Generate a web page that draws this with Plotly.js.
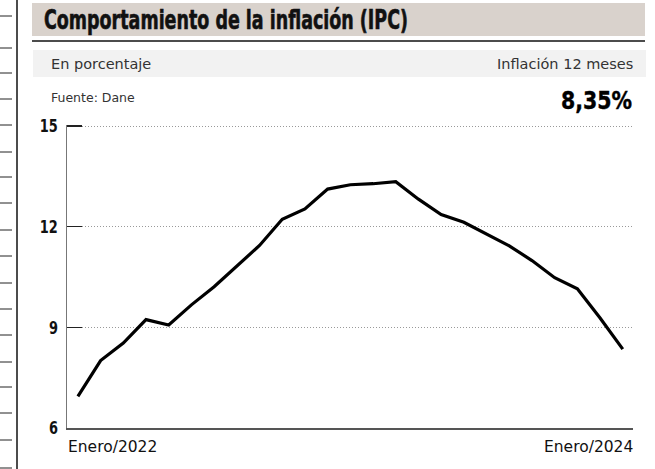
<!DOCTYPE html>
<html>
<head>
<meta charset="utf-8">
<script src="https://cdn.plot.ly/plotly-3.0.1.min.js"></script>
<style>
html,body{margin:0;padding:0;background:#fff;}
#chart{width:655px;height:469px;}
</style>
</head>
<body>
<div id="chart"></div>
<script>
// Monthly categories Jan 2022 .. Jan 2024
const months = ["2022-01","2022-02","2022-03","2022-04","2022-05","2022-06","2022-07","2022-08","2022-09","2022-10","2022-11","2022-12",
                "2023-01","2023-02","2023-03","2023-04","2023-05","2023-06","2023-07","2023-08","2023-09","2023-10","2023-11","2023-12",
                "2024-01"];
const inflation = [6.94, 8.01, 8.53, 9.23, 9.07, 9.67, 10.21, 10.84, 11.44, 12.22, 12.53, 13.12,
                   13.25, 13.28, 13.34, 12.82, 12.36, 12.13, 11.78, 11.43, 10.99, 10.48, 10.15, 9.28,
                   8.35];
const yTicks = [6, 9, 12, 15];
const xStartLabel = "Enero/2022";
const xEndLabel = "Enero/2024";
const titleText = "Comportamiento de la inflación (IPC)";
const unitText = "En porcentaje";
const sourceText = "Fuente: Dane";
const kpiLabel = "Inflación 12 meses";
const kpiValue = "8,35%";

const W = 655, H = 469;
const L = 67, R = 633, T = 125, B = 428;
const px = x => (x - L) / (R - L);
const py = y => (B - y) / (B - T);

const bold = "DejaVu Sans Condensed, DejaVu Sans, sans-serif";
const plain = "DejaVu Sans, sans-serif";

const shapes = [
  {type:'rect', xref:'paper', yref:'paper', x0:px(32), x1:px(645), y0:py(3), y1:py(36), fillcolor:'#d9d2cc', line:{width:0}, layer:'below'},
  {type:'line', xref:'paper', yref:'paper', x0:px(32), x1:px(645), y0:py(41), y1:py(41), line:{color:'#111', width:1.5}},
  {type:'rect', xref:'paper', yref:'paper', x0:px(33), x1:px(646), y0:py(50), y1:py(77), fillcolor:'#f2f2f2', line:{width:0}, layer:'below'},
  {type:'line', xref:'paper', yref:'paper', x0:px(17), x1:px(17), y0:py(0), y1:py(469), line:{color:'#111', width:1.5}}
];
[16,48,73,99,125,152,177,203,230,256,283,309,335,362,387,413,440,468].forEach(y=>{
  shapes.push({type:'line', xref:'paper', yref:'paper', x0:px(0), x1:px(12), y0:py(y), y1:py(y), line:{color:'#222', width:1}});
});

const annotations = [
  {text:titleText, xref:'paper', yref:'paper', x:px(42), y:py(20), xanchor:'left', yanchor:'middle', showarrow:false,
   font:{family:bold, size:27, color:'#111', weight:700}},
  {text:unitText, xref:'paper', yref:'paper', x:px(49), y:py(64), xanchor:'left', yanchor:'middle', showarrow:false,
   font:{family:plain, size:14.5, color:'#333'}},
  {text:kpiLabel, xref:'paper', yref:'paper', x:px(635), y:py(64), xanchor:'right', yanchor:'middle', showarrow:false,
   font:{family:plain, size:14.5, color:'#333'}},
  {text:sourceText, xref:'paper', yref:'paper', x:px(49), y:py(97), xanchor:'left', yanchor:'middle', showarrow:false,
   font:{family:plain, size:12.5, color:'#333'}},
  {text:kpiValue, xref:'paper', yref:'paper', x:px(634), y:py(101), xanchor:'right', yanchor:'middle', showarrow:false,
   font:{family:bold, size:25, color:'#000', weight:700}},
  {text:xStartLabel, xref:'paper', yref:'paper', x:px(66), y:py(447), xanchor:'left', yanchor:'middle', showarrow:false,
   font:{family:plain, size:15.5, color:'#111'}},
  {text:xEndLabel, xref:'paper', yref:'paper', x:px(635), y:py(447), xanchor:'right', yanchor:'middle', showarrow:false,
   font:{family:plain, size:15.5, color:'#111'}}
];

const trace = {
  x: months.map((m,i)=>i), y: inflation, type:'scatter', mode:'lines',
  line:{color:'#000', width:3.2}, hoverinfo:'skip', cliponaxis:false
};

const layout = {
  width:W, height:H,
  margin:{l:L, r:W-R, t:T, b:H-B, pad:0},
  paper_bgcolor:'#fff', plot_bgcolor:'#fff',
  showlegend:false,
  xaxis:{range:[-0.48, 24.45], showgrid:false, zeroline:false, showticklabels:false, ticks:'',
         showline:true, linecolor:'#555', linewidth:1.5, fixedrange:true},
  yaxis:{range:[6,15.03], tickvals:yTicks, ticktext:yTicks.map(String), showgrid:true, gridcolor:'#999', griddash:'1px,2px', gridwidth:1,
         zeroline:false, showline:true, linecolor:'#777', linewidth:1.5, ticks:'inside', ticklen:15, tickcolor:'#222', tickwidth:1.3,
         ticklabelstandoff:4, tickfont:{family:bold, size:18, color:'#111', weight:700}, fixedrange:true},
  shapes: shapes,
  annotations: annotations
};

// squeeze text horizontally (condensed look) while keeping it real text
function squeeze(el, targetWidth, keep){
  const b0 = el.getBBox();
  el.setAttribute('textLength', targetWidth);
  el.setAttribute('lengthAdjust', 'spacingAndGlyphs');
  const b1 = el.getBBox();
  let dx = 0;
  if (keep === 'left') dx = b0.x - b1.x;
  else if (keep === 'right') dx = (b0.x + b0.width) - (b1.x + b1.width);
  if (dx) {
    const t = el.getAttribute('transform') || '';
    el.setAttribute('transform', (t + ' translate(' + dx + ',0)').trim());
  }
}

Plotly.newPlot('chart', [trace], layout, {staticPlot:true, displayModeBar:false}).then(gd=>{
  gd.querySelectorAll('text.annotation-text').forEach(t=>{
    if (t.textContent === titleText) { squeeze(t, 364, 'left'); t.style.stroke = '#111'; t.style.strokeWidth = '0.6px'; }
    if (t.textContent === kpiValue) { squeeze(t, 71, 'right'); t.style.stroke = '#000'; t.style.strokeWidth = '0.4px'; }
  });
  gd.querySelectorAll('.ytick text').forEach(t=>{
    const w = t.getComputedTextLength();
    squeeze(t, w*0.8, 'right');
  });
});
</script>
</body>
</html>
